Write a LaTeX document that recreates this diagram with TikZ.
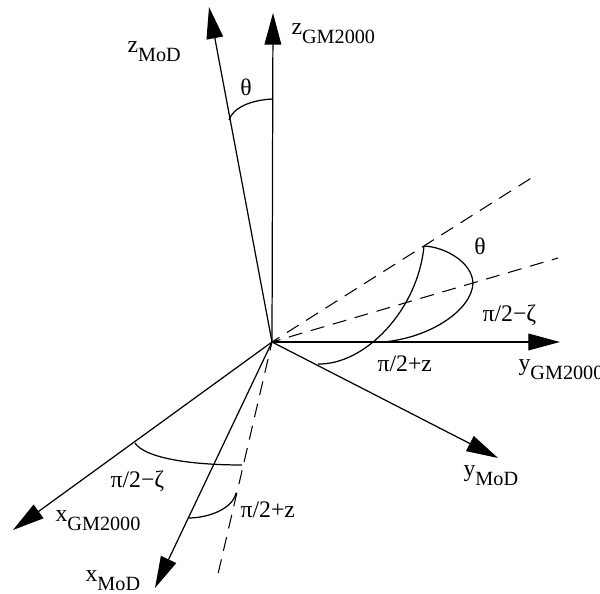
\documentclass[tikz,border=0pt]{standalone}
\usepackage{fontspec}
\setmainfont{Liberation Serif}
\usetikzlibrary{arrows.meta}
\newcommand{\axl}[2]{#1\raisebox{-4.8pt}{\fontsize{11.5}{12}\selectfont #2}}
\begin{document}
\begin{tikzpicture}[x=0.02cm,y=-0.02cm,line width=0.7pt,
  >={Triangle[length=18pt,width=9.5pt]},
  lbl/.style={inner sep=0pt,anchor=base west,font=\fontsize{13.5}{15}\selectfont},
  dsh/.style={line width=0.6pt,dash pattern=on 8pt off 5pt,dash phase=3pt}]
\useasboundingbox (0,0) rectangle (600,594);

\coordinate (O) at (272,342);
\coordinate (zG) at (273,13);
\coordinate (zM) at (209,7);
\coordinate (yG) at (560,342);
\coordinate (yM) at (498,458);
\coordinate (xG) at (13,530);
\coordinate (xM) at (155,588);
\coordinate (d1) at (533,177);
\coordinate (d2) at (558,258);
\coordinate (d3) at (218,574);

\draw[->] (O)--(zG);
\draw[->] (O)--(zM);
\draw[->] (O)--(yG);
\draw[->] (O)--(yM);
\draw[->] (O)--(xG);
\draw[->] (O)--(xM);
\foreach \d in {d1,d2,d3} \draw[dsh] (O)--(\d);

\draw (273,99) .. controls (250,100) and (233,108) .. (229,120);
\draw (424,246) .. controls (445,247) and (472,262) .. (473,283);
\draw (473,283) .. controls (472,310) and (430,338) .. (383,342);
\draw (424,246) .. controls (418,310) and (365,365) .. (318,364);
\draw (135,443) .. controls (145,458) and (190,465) .. (242,465);
\draw (188,518) .. controls (210,518) and (233,508) .. (236,493);

\node[lbl] (lzM) at (127,53) {\axl{z}{MoD}};
\node[lbl] (lzG) at (291,35) {\axl{z}{GM2000}};
\node[lbl] (lyG) at (518,371) {\axl{y}{GM2000}};
\node[lbl] (lyM) at (463,477) {\axl{y}{MoD}};
\node[lbl] (lxG) at (55,522) {\axl{x}{GM2000}};
\node[lbl] (lxM) at (85,582) {\axl{x}{MoD}};

\node[lbl,anchor=center] (th1) at (246,87) {θ};
\node[lbl,anchor=center] (th2) at (480,246) {θ};
\node[lbl] (zr) at (482,322) {π/2−ζ};
\node[lbl] (pr) at (377,372) {π/2+z};
\node[lbl] (zl) at (110,488) {π/2−ζ};
\node[lbl] (pl) at (240,518) {π/2+z};
\end{tikzpicture}
\end{document}
